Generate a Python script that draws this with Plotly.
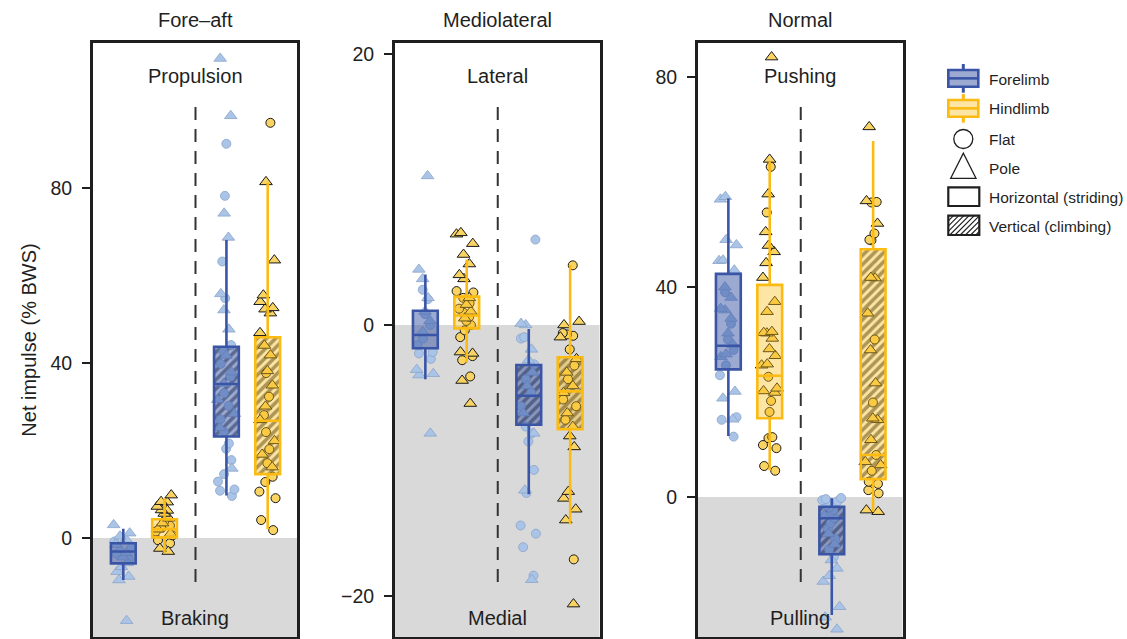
import plotly.graph_objects as go

W, H = 1127, 639
FONT = "Liberation Sans, Arial, sans-serif"
INK = "#1f1f1f"

# ---------------- data ----------------
panel_titles = ["Fore–aft", "Mediolateral", "Normal"]
upper_labels = ["Propulsion", "Lateral", "Pushing"]
lower_labels = ["Braking", "Medial", "Pulling"]
tick_values = [[0, 40, 80], [-20, 0, 20], [0, 40, 80]]

# Fore-aft impulses (% BWS), split by limb, posture and substrate
fa_fore_hor_flat = [-0.8, -2.2, -3.6, -4.9]
fa_fore_hor_pole = [3.0, 1.1, 0.4, -0.3, -1.5, -2.6, -3.4, -4.4, -5.7, -6.6, -7.7, -8.8, -9.6, -18.9]
fa_hind_hor_flat = [3.8, 2.8, 2.4, 1.5, 0.6, -0.5, -1.2]
fa_hind_hor_pole = [9.8, 8.3, 8.2, 7.2, 6.4, 6.3, 5.6, 4.5, 3.4, 2.0, 1.0, -2.4, -3.1]
fa_fore_ver_flat = [90.1, 78.2, 63.2, 54.8, 44.1, 42.6, 39.8, 36.9, 33.1, 30.2, 27.1, 24.3,
                    21.6, 20.4, 17.8, 14.6, 12.9, 11.1, 10.8, 9.6]
fa_fore_ver_pole = [109.6, 96.5, 74.2, 68.7, 55.8, 52.1, 47.7, 41.7, 37.9, 35.3, 31.6, 28.4, 25.2, 15.9]
fa_hind_ver_flat = [94.9, 37.7, 32.3, 28.1, 24.2, 20.3, 17.1, 14.0, 12.8, 10.6, 9.1, 4.1, 1.8]
fa_hind_ver_pole = [81.4, 63.5, 55.5, 54.0, 52.6, 52.3, 51.4, 46.9, 44.0, 41.8, 38.2, 34.9,
                    30.1, 27.0, 22.2, 19.1, 16.2]

# Mediolateral impulses
ml_fore_hor_flat = [2.6, 1.9, 0.8, 0.0, -1.0, -1.5, -2.0, -2.1, -2.5]
ml_fore_hor_pole = [11.0, 4.1, 3.4, 2.0, 1.0, 0.3, -0.5, -3.3, -3.6, -3.7, -8.0]
ml_hind_hor_flat = [2.5, 2.4, 2.0, 1.6, 1.2, 0.9, 0.6, 0.3, 0.0, -0.4, -0.9, -2.3, -2.6, -3.8]
ml_hind_hor_pole = [6.8, 6.7, 6.0, 5.2, 4.5, 3.7, 3.4, 2.0, 1.5, 1.0, 0.5, -2.0, -2.1, -4.1, -5.8]
ml_fore_ver_flat = [6.3, -1.0, -0.9, -2.9, -4.0, -5.0, -6.0, -7.5, -8.0, -8.6, -10.7, -12.4,
                    -14.8, -15.4, -16.4, -18.5]
ml_fore_ver_pole = [0.0, 0.1, -1.8, -2.6, -3.5, -4.5, -6.5, -8.0, -12.2, -18.8]
ml_hind_ver_flat = [4.4, -0.6, -0.7, -0.8, -1.8, -3.0, -4.0, -5.5, -6.0, -7.0, -17.3]
ml_hind_ver_pole = [0.25, 0.0, -0.9, -2.5, -3.5, -4.5, -5.0, -6.5, -7.5, -8.2, -9.0, -12.3,
                    -12.8, -13.6, -14.4, -20.6]

# Normal impulses
nm_fore_hor_flat = [39.0, 33.0, 30.0, 28.0, 25.1, 23.2, 15.2, 14.7, 11.5]
nm_fore_hor_pole = [57.2, 56.7, 49.0, 48.0, 45.1, 45.0, 43.2, 40.0, 38.0, 35.9, 35.6, 34.0,
                    31.2, 29.0, 27.2, 26.7, 20.1, 18.8, 14.8]
nm_hind_hor_flat = [62.9, 54.2, 22.9, 18.3, 16.2, 11.4, 11.2, 9.9, 9.3, 5.9, 5.0]
nm_hind_hor_pole = [83.8, 64.3, 57.7, 50.5, 47.9, 46.7, 44.6, 41.8, 37.2, 35.3, 31.5, 31.3,
                    31.2, 30.2, 28.2, 26.9, 25.3, 25.1, 20.7, 20.2, 19.9]
nm_fore_ver_flat = [-0.2, -0.4, -0.6, -0.8, -1.0, -1.3, -1.6, -2.0, -2.5, -3.0, -4.0, -5.0,
                    -6.0, -8.0, -10.0, -11.4]
nm_fore_ver_pole = [-3.5, -7.0, -9.0, -12.0, -13.6, -15.0, -16.1, -20.9, -22.9, -25.2]
nm_hind_ver_flat = [56.1, 56.2, 50.2, 49.0, 48.9, 30.0, 18.0, 8.0, 5.0, 2.9, 2.5, 1.3, 0.7]
nm_hind_ver_pole = [70.5, 56.4, 52.1, 41.8, 41.7, 35.0, 28.0, 21.7, 15.0, 14.7, 10.9, 6.7,
                    6.1, -2.5, -2.8]

# Box summaries, group order: forelimb-horizontal, hindlimb-horizontal,
# forelimb-vertical, hindlimb-vertical
fa_q1 = [-5.8, 0.15, 23.2, 14.6]
fa_median = [-3.1, 2.0, 35.2, 26.8]
fa_q3 = [-1.2, 4.3, 43.7, 45.9]
fa_lower = [-9.6, -3.4, 9.7, 2.0]
fa_upper = [2.1, 9.1, 68.1, 81.2]

ml_q1 = [-1.72, -0.25, -7.37, -7.7]
ml_median = [-0.74, 0.7, -5.23, -4.9]
ml_q3 = [1.05, 2.09, -2.95, -2.38]
ml_lower = [-4.0, -2.77, -12.5, -14.7]
ml_upper = [3.73, 4.84, -0.3, 4.42]

nm_q1 = [24.3, 15.0, -10.9, 3.4]
nm_median = [28.8, 23.1, -4.06, 8.0]
nm_q3 = [42.5, 40.4, -1.85, 47.2]
nm_lower = [11.6, 5.1, -22.5, -2.8]
nm_upper = [56.9, 63.9, -0.25, 67.8]

# ---------------- assembly ----------------
points = [
    [(fa_fore_hor_flat, fa_fore_hor_pole), (fa_hind_hor_flat, fa_hind_hor_pole),
     (fa_fore_ver_flat, fa_fore_ver_pole), (fa_hind_ver_flat, fa_hind_ver_pole)],
    [(ml_fore_hor_flat, ml_fore_hor_pole), (ml_hind_hor_flat, ml_hind_hor_pole),
     (ml_fore_ver_flat, ml_fore_ver_pole), (ml_hind_ver_flat, ml_hind_ver_pole)],
    [(nm_fore_hor_flat, nm_fore_hor_pole), (nm_hind_hor_flat, nm_hind_hor_pole),
     (nm_fore_ver_flat, nm_fore_ver_pole), (nm_hind_ver_flat, nm_hind_ver_pole)],
]
stats = [
    (fa_q1, fa_median, fa_q3, fa_lower, fa_upper),
    (ml_q1, ml_median, ml_q3, ml_lower, ml_upper),
    (nm_q1, nm_median, nm_q3, nm_lower, nm_upper),
]

positions = [1.0, 2.0, 3.5, 4.5]
divider_x = 2.75
box_w = 0.6
x_range = [0.266, 5.21]
y_ranges = [[-22.63, 113.14], [-23.03, 20.81], [-26.67, 86.48]]

# panel pixel extents (left, right), shared top/bottom
panel_px = [(93, 297), (395, 599.5), (698, 902.5)]
top_px, bot_px = 43, 637

limb_style = {
    "fore": dict(line="#3a55a6", fill="rgba(58,85,166,0.5)",
                 pt="#a9c4e6", pt_line="#8aa3c9", pt_lw=0.8),
    "hind": dict(line="#fbbb12", fill="rgba(251,187,18,0.38)",
                 pt="#fad462", pt_line="#1a1a1a", pt_lw=1.0),
}
limbs = ["fore", "hind", "fore", "hind"]

fig = go.Figure()

for p in range(3):
    xa = "x" if p == 0 else f"x{p + 1}"
    ya = "y" if p == 0 else f"y{p + 1}"
    q1, med, q3, lo, hi = stats[p]

    # diagonal hatching for the vertical (climbing) boxes
    fig.add_trace(go.Bar(
        x=[positions[2], positions[3]],
        base=[q1[2], q1[3]],
        y=[q3[2] - q1[2], q3[3] - q1[3]],
        width=box_w,
        marker=dict(color="rgba(0,0,0,0)", line=dict(width=0),
                    pattern=dict(shape="/", size=6.5, solidity=0.55, fgcolor="#000000")),
        xaxis=xa, yaxis=ya, showlegend=False, hoverinfo="skip",
    ))

    # jittered individual strides
    for g in range(4):
        st = limb_style[limbs[g]]
        for vals, sym, size in ((points[p][g][0], "circle", 9),
                                (points[p][g][1], "triangle-up", 11)):
            fig.add_trace(go.Box(
                y=vals, x0=positions[g], width=box_w,
                boxpoints="all", jitter=0.85, pointpos=0,
                fillcolor="rgba(0,0,0,0)", line=dict(width=0, color="rgba(0,0,0,0)"),
                whiskerwidth=0,
                marker=dict(symbol=sym, size=size, color=st["pt"],
                            line=dict(color=st["pt_line"], width=st["pt_lw"])),
                xaxis=xa, yaxis=ya, showlegend=False, hoverinfo="skip",
            ))

    # box-and-whisker summaries
    for g in range(4):
        st = limb_style[limbs[g]]
        fig.add_trace(go.Box(
            x=[positions[g]], q1=[q1[g]], median=[med[g]], q3=[q3[g]],
            lowerfence=[lo[g]], upperfence=[hi[g]],
            width=box_w, boxpoints=False, whiskerwidth=0,
            fillcolor=st["fill"], line=dict(color=st["line"], width=2.6),
            xaxis=xa, yaxis=ya, showlegend=False, hoverinfo="skip",
        ))

shapes = []
annotations = []
layout_axes = {}

for p in range(3):
    xs = "" if p == 0 else str(p + 1)
    l, r = panel_px[p]
    layout_axes[f"xaxis{xs}"] = dict(
        domain=[l / W, r / W], range=x_range, anchor=f"y{xs}",
        showgrid=False, zeroline=False, showticklabels=False, ticks="",
        showline=True, mirror=True, linecolor=INK, linewidth=3,
    )
    layout_axes[f"yaxis{xs}"] = dict(
        domain=[1 - bot_px / H, 1 - top_px / H], range=y_ranges[p], anchor=f"x{xs}",
        showgrid=False, zeroline=False, tickvals=tick_values[p],
        ticks="outside", ticklen=8, tickwidth=2, tickcolor=INK,
        ticklabelstandoff=6,
        tickfont=dict(size=19.5, color=INK, family=FONT),
        showline=True, mirror=True, linecolor=INK, linewidth=3,
    )
    xr = f"x{xs} domain"
    yr = f"y{xs}"
    # negative-impulse shading
    shapes.append(dict(type="rect", xref=xr, yref=yr, x0=0, x1=1,
                       y0=y_ranges[p][0], y1=0, fillcolor="#d9d9d9",
                       line=dict(width=0), layer="below"))
    # divider between horizontal and vertical conditions
    shapes.append(dict(type="line", xref=f"x{xs}", yref=f"y{xs} domain",
                       x0=divider_x, x1=divider_x,
                       y0=(bot_px - 582) / (bot_px - top_px),
                       y1=(bot_px - 103) / (bot_px - top_px),
                       line=dict(color="#333333", width=2, dash="13px,9px")))
    annotations.append(dict(xref=xr, yref=f"y{xs} domain", x=0.5,
                            y=(bot_px - 76) / (bot_px - top_px),
                            xanchor="center", yanchor="middle",
                            text=upper_labels[p], showarrow=False,
                            font=dict(size=20, color=INK, family=FONT)))
    annotations.append(dict(xref=xr, yref=f"y{xs} domain", x=0.5,
                            y=(bot_px - 618) / (bot_px - top_px),
                            xanchor="center", yanchor="middle",
                            text=lower_labels[p], showarrow=False,
                            font=dict(size=20, color=INK, family=FONT)))
    annotations.append(dict(xref="paper", yref="paper", x=(l + r) / 2 / W,
                            y=1 - 20 / H, xanchor="center", yanchor="middle",
                            text=panel_titles[p], showarrow=False,
                            font=dict(size=20, color=INK, family=FONT)))

layout_axes["yaxis"]["title"] = dict(text="Net impulse (% BWS)", standoff=9,
                                     font=dict(size=20, color=INK, family=FONT))


# ---------------- legend glyphs ----------------
def px(x):
    return x / W


def py(y):
    return 1 - y / H


def box_icon(y_top, y_bot, st):
    cx = 963.3
    ym = (y_top + y_bot) / 2
    out = [
        dict(type="line", xref="paper", yref="paper", x0=px(cx), x1=px(cx),
             y0=py(y_top - 6), y1=py(y_top), line=dict(color=st["line"], width=3)),
        dict(type="line", xref="paper", yref="paper", x0=px(cx), x1=px(cx),
             y0=py(y_bot), y1=py(y_bot + 6), line=dict(color=st["line"], width=3)),
        dict(type="rect", xref="paper", yref="paper", x0=px(948.3), x1=px(978.3),
             y0=py(y_bot), y1=py(y_top), fillcolor=st["fill"],
             line=dict(color=st["line"], width=2.6)),
        dict(type="line", xref="paper", yref="paper", x0=px(948.3), x1=px(978.3),
             y0=py(ym), y1=py(ym), line=dict(color=st["line"], width=2.6)),
    ]
    return out


shapes += box_icon(70, 86.7, limb_style["fore"])
shapes += box_icon(100, 116.7, limb_style["hind"])
# flat (circle)
shapes.append(dict(type="circle", xref="paper", yref="paper",
                   x0=px(953.8), x1=px(972.8), y0=py(148.5), y1=py(129.5),
                   line=dict(color=INK, width=1.3)))
# pole (triangle)
shapes.append(dict(type="path", xref="paper", yref="paper",
                   path=f"M{px(950.7)},{py(178.3)} L{px(963.35)},{py(153.3)} "
                        f"L{px(976.0)},{py(178.3)} Z",
                   line=dict(color=INK, width=1.3)))
# horizontal (plain rectangle)
shapes.append(dict(type="rect", xref="paper", yref="paper",
                   x0=px(948.3), x1=px(979.3), y0=py(206), y1=py(187.3),
                   fillcolor="white", line=dict(color=INK, width=2.2)))
# vertical (hatched rectangle)
hx0, hx1, hy0, hy1 = 948.3, 979.3, 215.7, 235.0
hh = hy1 - hy0
segs = []
c = hx0 - hh
while c < hx1:
    sx, sy = c, hy1
    ex, ey = c + hh, hy0
    if sx < hx0:
        sy -= hx0 - sx
        sx = hx0
    if ex > hx1:
        ey += ex - hx1
        ex = hx1
    if ex > sx:
        segs.append(f"M{px(sx)},{py(sy)} L{px(ex)},{py(ey)}")
    c += 5.2
shapes.append(dict(type="path", xref="paper", yref="paper", path=" ".join(segs),
                   line=dict(color=INK, width=1.1)))
shapes.append(dict(type="rect", xref="paper", yref="paper",
                   x0=px(hx0), x1=px(hx1), y0=py(hy1), y1=py(hy0),
                   line=dict(color=INK, width=2.2)))

legend_labels = ["Forelimb", "Hindlimb", "Flat", "Pole",
                 "Horizontal (striding)", "Vertical (climbing)"]
legend_rows = [79, 108.5, 139, 168, 197, 226]
for txt, yy in zip(legend_labels, legend_rows):
    annotations.append(dict(xref="paper", yref="paper", x=px(987.3), y=py(yy),
                            xanchor="left", yanchor="middle", text=txt,
                            showarrow=False,
                            font=dict(size=15.5, color=INK, family=FONT)))

fig.update_layout(
    width=W, height=H,
    margin=dict(l=0, r=0, t=0, b=0),
    paper_bgcolor="white", plot_bgcolor="white",
    showlegend=False, barmode="overlay", boxmode="overlay",
    font=dict(family=FONT, color=INK),
    shapes=shapes, annotations=annotations,
    **layout_axes,
)

fig.write_html("out.html")
